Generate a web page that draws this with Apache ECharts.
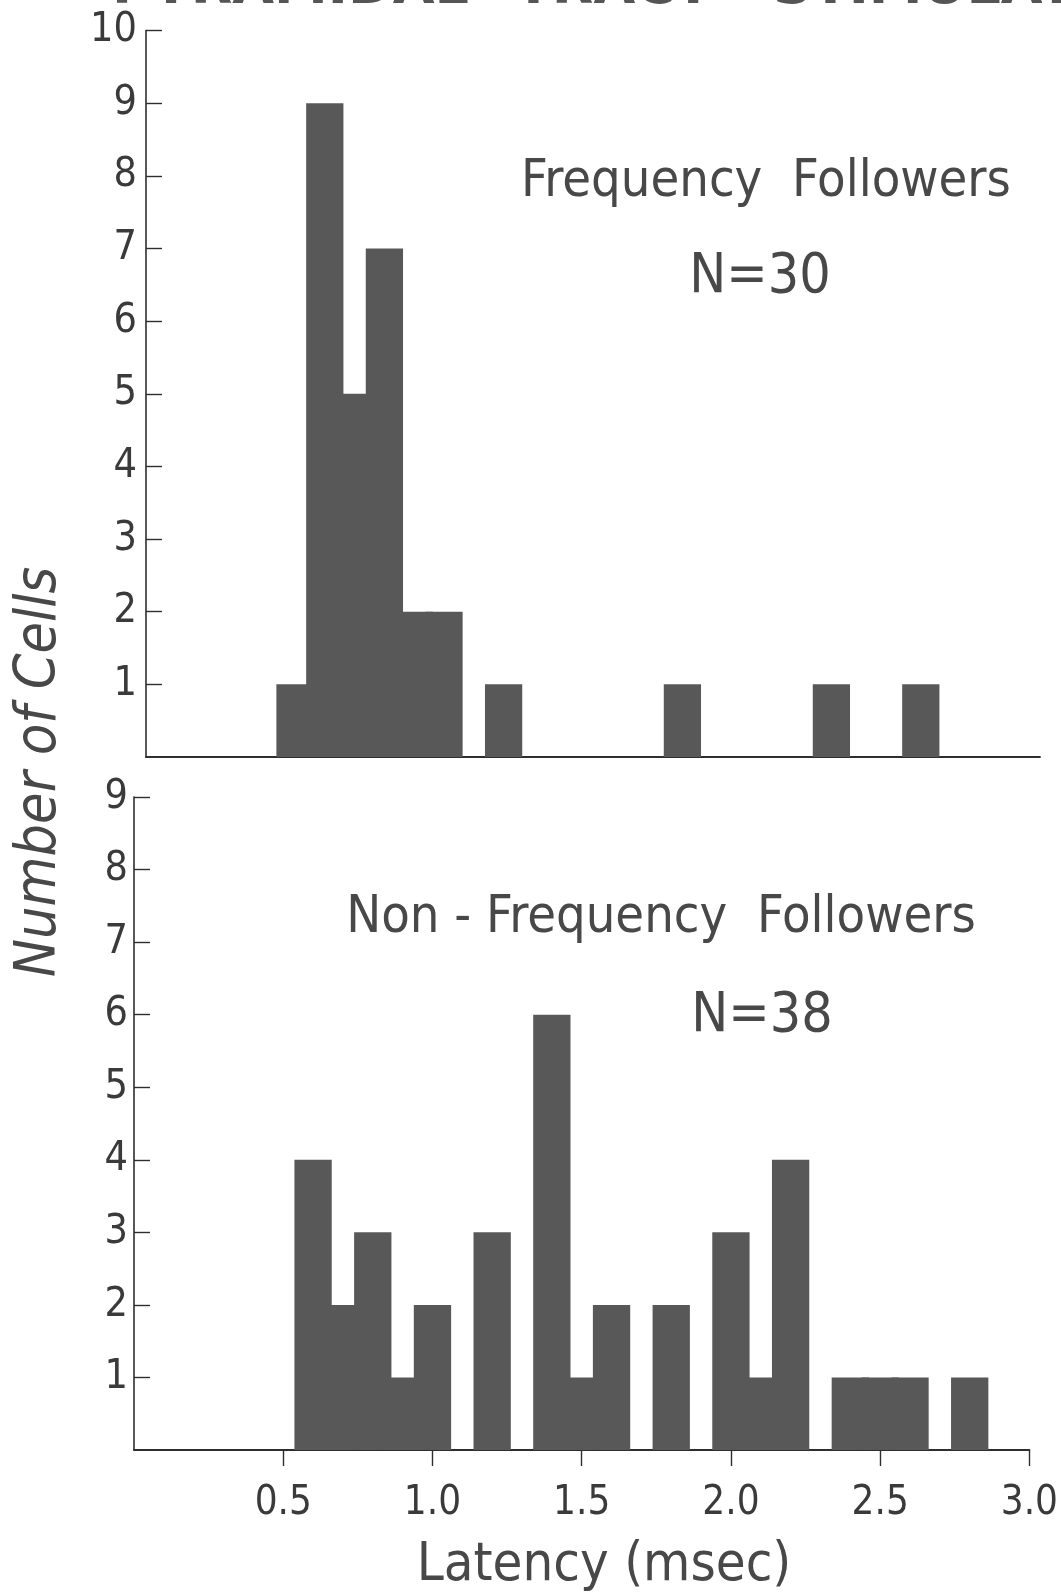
<!DOCTYPE html>
<html>
<head>
<meta charset="utf-8">
<style>
  html, body { margin: 0; padding: 0; background: #ffffff; }
  #chart { width: 1061px; height: 1594px; }
</style>
<script src="https://cdn.jsdelivr.net/npm/echarts@6/dist/echarts.min.js"></script>
</head>
<body>
<div id="chart"></div>
<script>
// ---- data ----
const topBins = [0.5, 0.6, 0.7, 0.8, 0.9, 1.0, 1.2, 1.8, 2.3, 2.6];
const topCounts = [1, 9, 5, 7, 2, 2, 1, 1, 1, 1];
const bottomBins = [0.6, 0.7, 0.8, 0.9, 1.0, 1.2, 1.4, 1.5, 1.6, 1.8, 2.0, 2.1, 2.2, 2.4, 2.5, 2.6, 2.8];
const bottomCounts = [4, 2, 3, 1, 2, 3, 6, 1, 2, 2, 3, 1, 4, 1, 1, 1, 1];
const topYTicks = [1, 2, 3, 4, 5, 6, 7, 8, 9, 10];
const bottomYTicks = [1, 2, 3, 4, 5, 6, 7, 8, 9];
const xTickValues = [0.5, 1.0, 1.5, 2.0, 2.5, 3.0];
const xTickLabels = ['0.5', '1.0', '1.5', '2.0', '2.5', '3.0'];
const topLabel = 'Frequency  Followers';
const topN = 'N=30';
const bottomLabel = 'Non - Frequency  Followers';
const bottomN = 'N=38';
const xTitle = 'Latency (msec)';
const yTitle = 'Number of Cells';
const titleWords = ['PYRAMIDAL', 'TRACT', 'STIMULATION'];

// ---- style ----
const BAR_W = 0.125;
const BAR_COLOR = '#585858';
const AXIS_COLOR = '#2e2e2e';
const TEXT_COLOR = '#484848';
const FONT_NUM = "'DejaVu Sans Condensed', 'DejaVu Sans', sans-serif";
const FONT_TXT = "'DejaVu Sans Condensed', 'DejaVu Sans', sans-serif";

function pairs(xs, ys) { return xs.map((x, i) => [x, ys[i]]); }

function renderBar(params, api) {
  const x = api.value(0), y = api.value(1);
  const p0 = api.coord([x - BAR_W / 2, y]);
  const p1 = api.coord([x + BAR_W / 2, 0]);
  return {
    type: 'rect',
    shape: { x: p0[0], y: p0[1], width: p1[0] - p0[0], height: p1[1] - p0[1] },
    style: { fill: BAR_COLOR }
  };
}

function yAxis(gridIndex, max, ticks, margin) {
  return {
    type: 'value', gridIndex, min: 0, max, interval: 1,
    splitLine: { show: false },
    axisLine: { show: true, lineStyle: { color: AXIS_COLOR, width: 1.6 } },
    axisTick: { show: true, inside: true, length: 16, customValues: ticks,
                lineStyle: { color: AXIS_COLOR, width: 1.4 } },
    axisLabel: { show: true, customValues: ticks, margin, fontSize: 41,
                 fontFamily: FONT_NUM, color: '#3a3a3a', formatter: v => String(v) }
  };
}

const chart = echarts.init(document.getElementById('chart'), null, { renderer: 'canvas' });
chart.setOption({
  backgroundColor: '#ffffff',
  animation: false,
  grid: [
    { left: 146, width: 894, top: 30.5, height: 726.5 },
    { left: 134, width: 901, top: 797, height: 653 }
  ],
  xAxis: [
    { type: 'value', gridIndex: 0, min: 0, max: 3, interval: 0.5,
      splitLine: { show: false },
      axisLine: { show: true, lineStyle: { color: AXIS_COLOR, width: 1.8 } },
      axisTick: { show: false }, axisLabel: { show: false } },
    { type: 'value', gridIndex: 1, min: 0, max: 3, interval: 0.5,
      splitLine: { show: false },
      axisLine: { show: true, lineStyle: { color: AXIS_COLOR, width: 1.8 } },
      axisTick: { show: true, length: 16, customValues: xTickValues,
                  lineStyle: { color: AXIS_COLOR, width: 1.4 } },
      axisLabel: { show: true, customValues: xTickValues, margin: 34, fontSize: 40,
                   fontFamily: FONT_NUM, color: '#3a3a3a',
                   formatter: v => xTickLabels[xTickValues.findIndex(t => Math.abs(t - v) < 1e-6)] || '' } }
  ],
  yAxis: [ yAxis(0, 10, topYTicks, 9), yAxis(1, 9, bottomYTicks, 6) ],
  series: [
    { type: 'custom', xAxisIndex: 0, yAxisIndex: 0, renderItem: renderBar,
      data: pairs(topBins, topCounts), encode: { x: 0, y: 1 } },
    { type: 'custom', xAxisIndex: 1, yAxisIndex: 1, renderItem: renderBar,
      data: pairs(bottomBins, bottomCounts), encode: { x: 0, y: 1 } }
  ],
  graphic: [
    { type: 'text', left: 112, top: -38, style: { text: titleWords[0], font: "bold 54px 'DejaVu Sans'", fill: '#555' } },
    { type: 'text', left: 515, top: -38, style: { text: titleWords[1], font: "bold 54px 'DejaVu Sans'", fill: '#555' } },
    { type: 'text', left: 773, top: -38, style: { text: titleWords[2], font: "bold 54px 'DejaVu Sans'", fill: '#555' } },
    { type: 'text', x: 766, y: 182, style: { text: topLabel, fontSize: 52, fontFamily: FONT_TXT, fill: TEXT_COLOR, align: 'center', verticalAlign: 'middle' } },
    { type: 'text', x: 760, y: 278, style: { text: topN, fontSize: 55, fontFamily: FONT_TXT, fill: TEXT_COLOR, align: 'center', verticalAlign: 'middle' } },
    { type: 'text', x: 661, y: 918, style: { text: bottomLabel, fontSize: 52, fontFamily: FONT_TXT, fill: TEXT_COLOR, align: 'center', verticalAlign: 'middle' } },
    { type: 'text', x: 762, y: 1017, style: { text: bottomN, fontSize: 55, fontFamily: FONT_TXT, fill: TEXT_COLOR, align: 'center', verticalAlign: 'middle' } },
    { type: 'text', x: 604, y: 1566, style: { text: xTitle, fontSize: 54, fontFamily: FONT_TXT, fill: TEXT_COLOR, align: 'center', verticalAlign: 'middle' } },
    { type: 'text', x: 40, y: 772, rotation: Math.PI / 2, style: { text: yTitle, fontSize: 57, fontStyle: 'italic', fontFamily: FONT_TXT, fill: TEXT_COLOR, align: 'center', verticalAlign: 'middle' } }
  ]
});
</script>
</body>
</html>
